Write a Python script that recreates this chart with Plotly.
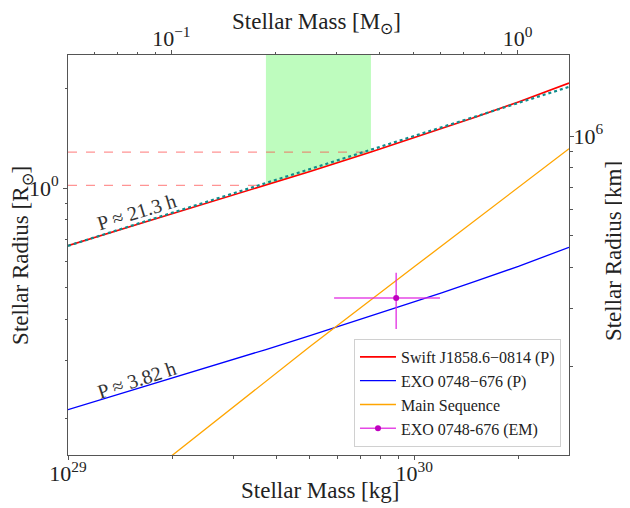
import numpy as np
import plotly.graph_objects as go

# ---------------- data ----------------
MSUN_KG = 1.989e30
RSUN_KM = 6.957e5

mass_kg = [1e29, 2e29, 3.73e29, 5e29, 7.5e29, 1.2e30, 1.5e30, 2e30, 2.8e30]
r_swift = [0.669, 0.834, 1.019, 1.122, 1.285, 1.513, 1.639, 1.823, 2.079]   # Swift J1858.6-0814 (P), R_sun
r_exo = [0.213, 0.265, 0.324, 0.357, 0.409, 0.481, 0.521, 0.579, 0.661]     # EXO 0748-676 (P), R_sun

approx_mass = [1e29, 2.8e30]
approx_r = [0.668, 2.025]          # dotted teal line

ms_mass = [1.5e29, 5e29, 1e30, 2e30, 2.8e30]
ms_r = [0.122, 0.331, 0.577, 1.004, 1.315]   # main sequence

band_mass = [3.73e29, 7.5e29]      # green band edges (kg)
band_r = [1.019, 1.285]            # dashed horizontal levels (R_sun)

em_mass = [8.87e29]
em_mass_err = [3.0e29]
em_r = [0.464]
em_r_err = [0.09]

x_range_kg = [1e29, 2.8e30]
y_range_log = [-0.809, 0.403]

# ---------------- figure ----------------
FONT = "Liberation Serif"
AX = "#555555"
TXT = "#222222"
fig = go.Figure()

y_top = 10 ** y_range_log[1]
bx = [m for m in mass_kg if band_mass[0] <= m <= band_mass[1]]
by = [r for m, r in zip(mass_kg, r_swift) if band_mass[0] <= m <= band_mass[1]]
fig.add_trace(go.Scatter(x=bx + [band_mass[1], band_mass[0]], y=by + [y_top, y_top],
                         fill="toself", fillcolor="rgb(190,252,190)", mode="none",
                         showlegend=False, hoverinfo="skip"))

for m, r in zip(band_mass, band_r):
    fig.add_trace(go.Scatter(x=[x_range_kg[0], m], y=[r, r], mode="lines",
                             line=dict(color="rgba(255,60,60,0.55)", width=1.2, dash="dash"),
                             showlegend=False, hoverinfo="skip"))

fig.add_trace(go.Scatter(x=mass_kg, y=r_swift, mode="lines", name="Swift J1858.6\u22120814 (P)",
                         line=dict(color="#ff0000", width=1.6)))
fig.add_trace(go.Scatter(x=approx_mass, y=approx_r, mode="lines", showlegend=False,
                         line=dict(color="#108c8c", width=2.2, dash="dot")))
fig.add_trace(go.Scatter(x=mass_kg, y=r_exo, mode="lines", name="EXO 0748\u2212676 (P)",
                         line=dict(color="#0000ff", width=1.3)))
fig.add_trace(go.Scatter(x=ms_mass, y=ms_r, mode="lines", name="Main Sequence",
                         line=dict(color="#ffa500", width=1.3)))
fig.add_trace(go.Scatter(x=em_mass, y=em_r, mode="lines+markers", name="EXO 0748-676 (EM)",
                         marker=dict(color="#c000c0", size=6),
                         line=dict(color="rgba(225,40,225,0.85)", width=1.5),
                         error_x=dict(type="data", array=em_mass_err, color="rgba(225,40,225,0.85)",
                                      thickness=1.5, width=0),
                         error_y=dict(type="data", array=em_r_err, color="rgba(225,40,225,0.85)",
                                      thickness=1.5, width=0)))

# invisible traces to activate the secondary axes
fig.add_trace(go.Scatter(x=[0.1, 1.0], y=[1, 1], xaxis="x2", yaxis="y", mode="markers",
                         marker=dict(opacity=0), showlegend=False, hoverinfo="skip"))
fig.add_trace(go.Scatter(x=[1e29, 1e30], y=[1e6, 1e6], xaxis="x", yaxis="y2", mode="markers",
                         marker=dict(opacity=0), showlegend=False, hoverinfo="skip"))

lx0, lx1 = np.log10(x_range_kg[0]), np.log10(x_range_kg[1])
lmsun = np.log10(MSUN_KG)
lrkm = np.log10(RSUN_KM)

common = dict(type="log", showgrid=False, zeroline=False, showline=True, linecolor=AX, linewidth=1,
              ticks="outside", ticklen=4, tickcolor=AX, tickwidth=1, automargin=False,
              tickfont=dict(family=FONT, size=22, color=TXT), tickmode="array")


def minor(vals):
    return dict(tickmode="array", ticks="outside", ticklen=2.5, tickcolor=AX, tickvals=vals)


# page body has an 8 px margin, so the figure is a little smaller than the window
fig.update_layout(
    width=622, height=500,
    margin=dict(l=60, r=61, t=47, b=53),
    paper_bgcolor="white", plot_bgcolor="white",
    font=dict(family=FONT, color=TXT),
    xaxis=dict(**common, range=[lx0, lx1], ticklabelstandoff=-5,
               tickvals=[1e29, 1e30], ticktext=["10<sup>29</sup>", "10<sup>30</sup>"],
               minor=minor([k * 1e29 for k in range(2, 10)] + [2e30])),
    xaxis2=dict(**common, range=[lx0 - lmsun, lx1 - lmsun], overlaying="x", side="top",
                ticklabelstandoff=-5,
                tickvals=[0.1, 1.0], ticktext=["10<sup>\u22121</sup>", "10<sup>0</sup>"],
                minor=minor([0.06, 0.07, 0.08, 0.09] + [k * 0.1 for k in range(2, 10)])),
    yaxis=dict(**common, range=y_range_log,
               tickvals=[1.0], ticktext=["10<sup>0</sup>"],
               minor=minor([k * 0.1 for k in range(2, 10)] + [2.0])),
    yaxis2=dict(**common, range=[y_range_log[0] + lrkm, y_range_log[1] + lrkm], overlaying="y",
                side="right", tickvals=[1e6], ticktext=["10<sup>6</sup>"], ticklabelstandoff=-5,
                minor=minor([k * 1e5 for k in range(2, 10)])),
    legend=dict(x=0.984, y=0.02, xanchor="right", yanchor="bottom",
                bgcolor="rgba(255,255,255,0.85)", bordercolor="#d0d0d0", borderwidth=1,
                font=dict(family=FONT, size=16, color=TXT), tracegroupgap=0, itemwidth=36),
    showlegend=True,
)

title_font = dict(family=FONT, size=23, color=TXT)
ann = [
    dict(text="Stellar Mass [kg]", x=0.503, y=-0.088, textangle=0),
    dict(text="Stellar Mass [M<sub>\u2299</sub>]", x=0.497, y=1.08, textangle=0),
    dict(text="Stellar Radius [R<sub>\u2299</sub>]", x=-0.092, y=0.50, textangle=-90),
    dict(text="Stellar Radius [km]", x=1.088, y=0.51, textangle=-90),
]
for a in ann:
    fig.add_annotation(xref="paper", yref="paper", showarrow=False, xanchor="center",
                       yanchor="middle", font=title_font, **a)

fig.add_annotation(text="P \u2248 21.3 h", xref="paper", yref="paper", x=0.136, y=0.607,
                   xanchor="center", yanchor="middle",
                   showarrow=False, textangle=-17, font=dict(family=FONT, size=20, color="#333"))
fig.add_annotation(text="P \u2248 3.82 h", xref="paper", yref="paper", x=0.136, y=0.188,
                   xanchor="center", yanchor="middle",
                   showarrow=False, textangle=-18, font=dict(family=FONT, size=20, color="#333"))

fig.write_html("out.html")
